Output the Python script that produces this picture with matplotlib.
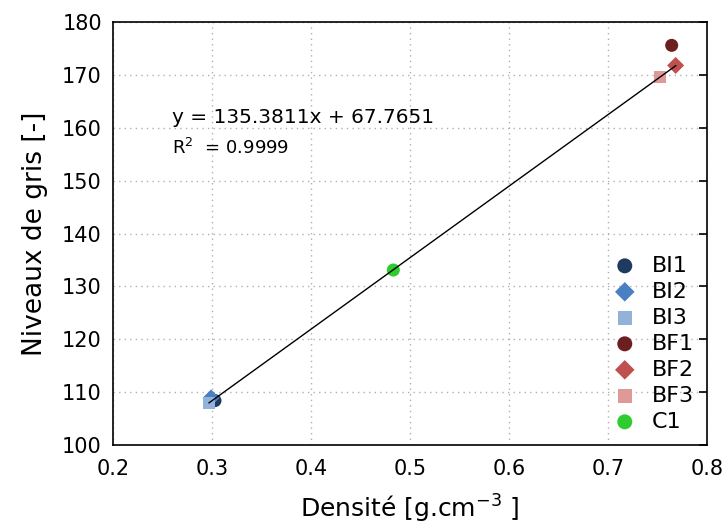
import matplotlib
matplotlib.use("Agg")
import matplotlib.pyplot as plt
import numpy as np

plt.rcParams["axes.unicode_minus"] = False

names = ["BI1", "BI2", "BI3", "BF1", "BF2", "BF3", "C1"]
dens = [0.303, 0.299, 0.297, 0.764, 0.768, 0.752, 0.483]
gris = [108.4, 108.9, 107.9, 175.6, 171.8, 169.6, 133.1]
markers = ["o", "D", "s", "o", "D", "s", "o"]
colors = ["#1f3a5f", "#4a7fc1", "#92b2d9", "#6b1f1f", "#c0504d", "#e09999", "#2ecc2e"]
sizes = [88, 75, 75, 88, 75, 75, 88]
slope, intercept = 135.3811, 67.7651

fig = plt.figure(figsize=(7.24, 5.26), dpi=100)
ax = fig.add_axes([0.156, 0.154, 0.821, 0.804])

xl = np.array([min(dens), max(dens)])
ax.plot(xl, slope * xl + intercept, color="black", lw=1, zorder=3)
for n, x, y, m, c, s in zip(names, dens, gris, markers, colors, sizes):
    ax.scatter([x], [y], marker=m, color=c, s=s, label=n, zorder=2, edgecolors="none")

ax.set_xlim(0.2, 0.8)
ax.set_ylim(100, 180)
ax.set_xticks(np.arange(0.2, 0.81, 0.1))
ax.set_yticks(np.arange(100, 181, 10))
ax.grid(True, linestyle=(0, (1, 3)), color="#b0b0b0", lw=1)
ax.tick_params(axis="both", which="both", labelsize=15, length=0)
ax.tick_params(axis="x", pad=10)
ax.tick_params(axis="y", right=True, direction="in", length=6, width=1.2, left=False, pad=8)
for sp in ax.spines.values():
    sp.set_linewidth(1.2)

ax.set_xlabel("Densité [g.cm$^{\\mathregular{-3}}$ ]", fontsize=18, labelpad=10)
ax.set_ylabel("Niveaux de gris [-]", fontsize=19, labelpad=10)

ax.text(0.26, 161, "y = 135.3811x + 67.7651", fontsize=14.5)
ax.text(0.26, 155, "R$^{\\mathregular{2}}$  = 0.9999", fontsize=13)

leg = ax.legend(loc="lower right", frameon=False, fontsize=16, handletextpad=0.62,
                labelspacing=0.27, borderaxespad=0.2, handlelength=1.2, markerscale=1.15)

fig.savefig("out.png", dpi=100)
